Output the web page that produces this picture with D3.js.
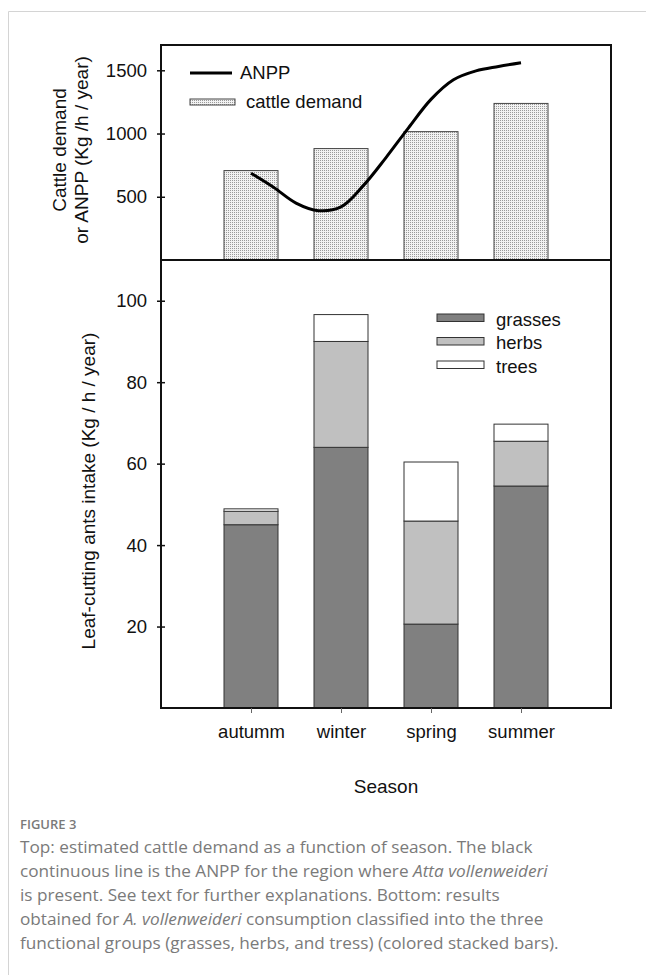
<!DOCTYPE html>
<html>
<head>
<meta charset="utf-8">
<script src="https://cdn.jsdelivr.net/npm/d3@7"></script>
<style>
body { margin: 0; background: #fff; }
svg text { font-family: "Liberation Sans", Arial, sans-serif; fill: #111; }
svg text.cap { font-family: "Open Sans", "Noto Sans", sans-serif; fill: #7a7a7a; }
</style>
</head>
<body>
<svg width="646" height="975"></svg>
<script>
// DATA
var seasons = ["autumm", "winter", "spring", "summer"];
var cattleDemand = [707, 881, 1015, 1238];
var anppX = [1, 1.25, 1.5, 1.75, 2, 2.25, 2.5, 2.75, 3, 3.25, 3.5, 3.75, 4];
var anppY = [686, 575, 450, 390, 420, 590, 810, 1045, 1270, 1425, 1495, 1530, 1560];
var grasses = [45, 64, 20.6, 54.5];
var herbs = [3.3, 26, 25.3, 11];
var trees = [0.6, 6.6, 14.5, 4.2];
var topTicks = [500, 1000, 1500];
var bottomTicks = [20, 40, 60, 80, 100];
var groups = ["grasses", "herbs", "trees"];
var groupColors = ["#808080", "#c0c0c0", "#ffffff"];

var svg = d3.select("svg");

// card border
svg.append("path")
    .attr("d", "M8.5,975 V11.5 H646")
    .attr("fill", "none")
    .attr("stroke", "#d4d4d4");

var left = 161, right = 611;
var top1 = 45, mid = 260, bottom = 708;

// SCALES
var x = d3.scaleLinear().domain([0, 5]).range([left, right]);
var yTop = d3.scaleLinear().domain([0, 1700]).range([mid, top1]);
var yBot = d3.scaleLinear().domain([0, 110]).range([bottom, mid]);
var barW = x(0.6) - x(0);

// stipple pattern for cattle bars
var pat = svg.append("defs").append("pattern")
    .attr("id", "stip")
    .attr("width", 2).attr("height", 2)
    .attr("patternUnits", "userSpaceOnUse");
pat.append("rect").attr("width", 2).attr("height", 2).attr("fill", "#f2f2f2");
pat.append("rect").attr("width", 1).attr("height", 1).attr("fill", "#9a9a9a");

// TOP PANEL: cattle demand bars
svg.append("g").selectAll("rect")
    .data(cattleDemand)
    .join("rect")
    .attr("x", function(d, i) { return x(i + 1) - barW / 2; })
    .attr("y", function(d) { return yTop(d); })
    .attr("width", barW)
    .attr("height", function(d) { return yTop(0) - yTop(d); })
    .attr("fill", "url(#stip)")
    .attr("stroke", "#444")
    .attr("stroke-width", 1);

// ANPP line
var anpp = anppX.map(function(v, i) { return [v, anppY[i]]; });
var line = d3.line()
    .x(function(d) { return x(d[0]); })
    .y(function(d) { return yTop(d[1]); })
    .curve(d3.curveCatmullRom);
svg.append("path")
    .datum(anpp)
    .attr("d", line)
    .attr("fill", "none")
    .attr("stroke", "#000")
    .attr("stroke-width", 3);

// BOTTOM PANEL: stacked bars
var rows = seasons.map(function(s, i) {
    return { season: s, i: i, grasses: grasses[i], herbs: herbs[i], trees: trees[i] };
});
var stack = d3.stack().keys(groups)(rows);
svg.append("g").selectAll("g")
    .data(stack)
    .join("g")
    .attr("fill", function(d, k) { return groupColors[k]; })
    .selectAll("rect")
    .data(function(d) { return d; })
    .join("rect")
    .attr("x", function(d) { return x(d.data.i + 1) - barW / 2; })
    .attr("y", function(d) { return yBot(d[1]); })
    .attr("width", barW)
    .attr("height", function(d) { return yBot(d[0]) - yBot(d[1]); })
    .attr("stroke", "#333")
    .attr("stroke-width", 1);

// FRAMES
svg.append("rect")
    .attr("x", left).attr("y", top1)
    .attr("width", right - left).attr("height", mid - top1)
    .attr("fill", "none").attr("stroke", "#111").attr("stroke-width", 2);
svg.append("rect")
    .attr("x", left).attr("y", mid)
    .attr("width", right - left).attr("height", bottom - mid)
    .attr("fill", "none").attr("stroke", "#111").attr("stroke-width", 2);

// AXES
function yAxis(scale, ticks) {
    var g = svg.append("g")
        .attr("transform", "translate(" + left + ",0)")
        .call(d3.axisLeft(scale).tickValues(ticks).tickSize(4).tickPadding(10)
            .tickFormat(d3.format("d")));
    g.attr("font-family", null).attr("font-size", null);
    g.select(".domain").remove();
    g.selectAll(".tick line").attr("x1", 4).attr("stroke", "#111").attr("stroke-width", 1.5);
    g.selectAll(".tick text").attr("font-size", 18.5).attr("fill", "#111");
}
yAxis(yTop, topTicks);
yAxis(yBot, bottomTicks);

var xa = svg.append("g")
    .attr("transform", "translate(0," + bottom + ")")
    .call(d3.axisBottom(x).tickValues([1, 2, 3, 4]).tickSize(5).tickPadding(12)
        .tickFormat(function(d) { return seasons[d - 1]; }));
xa.attr("font-family", null).attr("font-size", null);
xa.select(".domain").remove();
xa.selectAll(".tick line").attr("stroke", "#666");
xa.selectAll(".tick text").attr("font-size", 18.5).attr("fill", "#111");

// AXIS TITLES
svg.append("text")
    .attr("x", 386).attr("y", 793)
    .attr("text-anchor", "middle").attr("font-size", 19)
    .text("Season");

var t1 = svg.append("text")
    .attr("transform", "translate(0,150) rotate(-90)")
    .attr("text-anchor", "middle").attr("font-size", 19);
t1.append("tspan").attr("x", 0).attr("y", 66).text("Cattle demand");
t1.append("tspan").attr("x", 0).attr("y", 88).text("or ANPP (Kg /h / year)");

svg.append("text")
    .attr("transform", "translate(95,491) rotate(-90)")
    .attr("text-anchor", "middle").attr("font-size", 19)
    .text("Leaf-cutting ants intake (Kg / h / year)");

// LEGEND top
svg.append("line")
    .attr("x1", 190).attr("x2", 232).attr("y1", 73).attr("y2", 73)
    .attr("stroke", "#000").attr("stroke-width", 3);
svg.append("text").attr("x", 240).attr("y", 79).attr("font-size", 18.5).text("ANPP");
svg.append("rect")
    .attr("x", 190).attr("y", 99).attr("width", 45).attr("height", 6)
    .attr("fill", "url(#stip)").attr("stroke", "#444");
svg.append("text").attr("x", 246).attr("y", 108).attr("font-size", 18.5).text("cattle demand");

// LEGEND bottom
var leg = svg.append("g").selectAll("g")
    .data(groups)
    .join("g")
    .attr("transform", function(d, i) { return "translate(437," + (314 + i * 23.5) + ")"; });
leg.append("rect")
    .attr("width", 47).attr("height", 7.5)
    .attr("fill", function(d, i) { return groupColors[i]; })
    .attr("stroke", "#333");
leg.append("text")
    .attr("x", 59).attr("y", 11.5).attr("font-size", 18.5)
    .text(function(d) { return d; });

// CAPTION
svg.append("text").attr("class", "cap")
    .attr("x", 20).attr("y", 829)
    .attr("font-size", 13).attr("font-weight", 600)
    .text("FIGURE 3");

var capLines = [
    [["Top: estimated cattle demand as a function of season. The black", false]],
    [["continuous line is the ANPP for the region where ", false], ["Atta vollenweideri", true]],
    [["is present. See text for further explanations. Bottom: results", false]],
    [["obtained for ", false], ["A. vollenweideri", true], [" consumption classified into the three", false]],
    [["functional groups (grasses, herbs, and tress) (colored stacked bars).", false]]
];
var cap = svg.append("text").attr("class", "cap").attr("font-size", 17.2);
capLines.forEach(function(parts, li) {
    parts.forEach(function(p, pi) {
        var ts = cap.append("tspan").text(p[0]);
        if (pi === 0) ts.attr("x", 20).attr("y", 853 + li * 24);
        if (p[1]) ts.attr("font-style", "italic");
    });
});
</script>
</body>
</html>
